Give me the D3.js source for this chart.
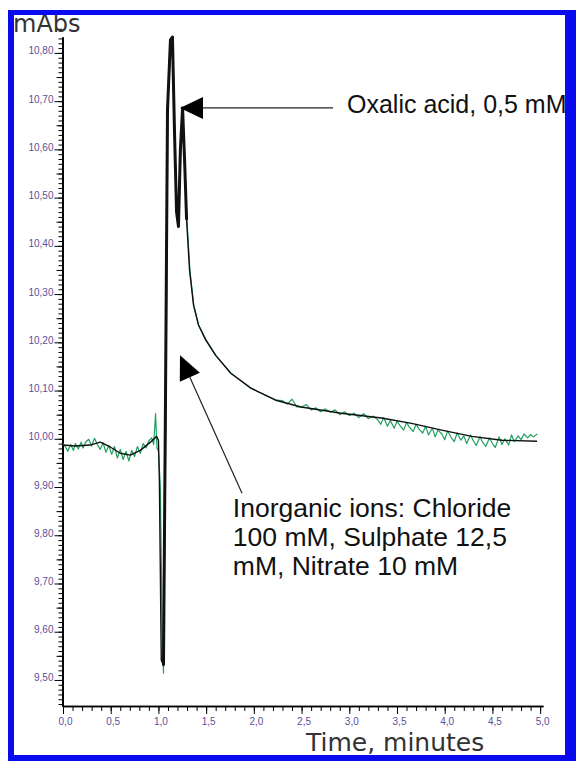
<!DOCTYPE html>
<html>
<head>
<meta charset="utf-8">
<title>Chromatogram</title>
<script src="https://cdn.jsdelivr.net/npm/d3@7"></script>
<style>
  body { margin: 0; background: #fff; }
  svg { display: block; }
  .axis path, .axis line { stroke: #000; }
  .axis path { stroke-width: 1.6px; }
  .axis text { fill: #5b4f9e; font-family: "Liberation Sans", Arial, sans-serif; font-size: 10px; }
  .trace { fill: none; stroke-linejoin: round; }
  .note { font-family: "Liberation Sans", Arial, sans-serif; font-size: 26.5px; fill: #111; }
  .title { font-family: "DejaVu Sans", sans-serif; fill: #333; }
</style>
</head>
<body>
<svg id="plot" width="576" height="761"></svg>
<script>
// tick labels (comma decimals as in the original)
const yMajor = [9.5, 9.6, 9.7, 9.8, 9.9, 10.0, 10.1, 10.2, 10.3, 10.4, 10.5, 10.6, 10.7, 10.8];
const yLabels = ["9,50", "9,60", "9,70", "9,80", "9,90", "10,00", "10,10", "10,20", "10,30", "10,40", "10,50", "10,60", "10,70", "10,80"];
const xMajor = [0, 0.5, 1, 1.5, 2, 2.5, 3, 3.5, 4, 4.5, 5];
const xLabels = ["0,0", "0,5", "1,0", "1,5", "2,0", "2,5", "3,0", "3,5", "4,0", "4,5", "5,0"];

// smoothed trace (black): [minutes, mAbs]
const smoothSignal = [
  [0, 9.987], [0.126, 9.985], [0.284, 9.987], [0.39, 9.993], [0.495, 9.983], [0.6, 9.970], [0.705, 9.966],
  [0.81, 9.976], [0.916, 9.993], [0.98, 10.005], [1.0, 9.997], [1.01, 9.914], [1.03, 9.541], [1.053, 9.530],
  [1.074, 10.080], [1.095, 10.682], [1.126, 10.827], [1.147, 10.833], [1.168, 10.640], [1.19, 10.470],
  [1.21, 10.440], [1.23, 10.599], [1.253, 10.686], [1.274, 10.578], [1.295, 10.454], [1.326, 10.350],
  [1.368, 10.277], [1.42, 10.236], [1.495, 10.205], [1.6, 10.173], [1.758, 10.136], [1.968, 10.105],
  [2.23, 10.080], [2.495, 10.066], [2.916, 10.053], [3.337, 10.043], [3.653, 10.032], [3.968, 10.018],
  [4.284, 10.005], [4.6, 9.997], [4.968, 9.995]
];

// raw detector signal (green): [minutes, mAbs]
const rawSignal = [
  [0, 9.990], [0.03, 9.982], [0.05, 9.974], [0.08, 9.988], [0.11, 9.976], [0.13, 9.990], [0.16, 9.979],
  [0.19, 9.993], [0.21, 9.981], [0.24, 9.994], [0.27, 9.999], [0.30, 9.985], [0.33, 10.001], [0.36, 9.988],
  [0.39, 9.978], [0.42, 9.992], [0.45, 9.972], [0.48, 9.986], [0.51, 9.968], [0.54, 9.984], [0.57, 9.960],
  [0.60, 9.978], [0.63, 9.957], [0.66, 9.974], [0.69, 9.954], [0.72, 9.976], [0.75, 9.963], [0.78, 9.984],
  [0.81, 9.970], [0.84, 9.990], [0.87, 9.981], [0.90, 9.996], [0.93, 10.002], [0.95, 9.988], [0.97, 10.052],
  [0.985, 9.980], [1.0, 9.975], [1.02, 9.900], [1.04, 9.600], [1.053, 9.514], [1.065, 9.750], [1.08, 10.100],
  [1.10, 10.700], [1.13, 10.810], [1.15, 10.830], [1.17, 10.640], [1.19, 10.470], [1.21, 10.440],
  [1.235, 10.600], [1.255, 10.680], [1.275, 10.580], [1.30, 10.450], [1.33, 10.350], [1.37, 10.277],
  [1.42, 10.236], [1.50, 10.205], [1.60, 10.173], [1.76, 10.136], [1.97, 10.105], [2.23, 10.080],
  [2.30, 10.079], [2.35, 10.072], [2.40, 10.082], [2.45, 10.066], [2.50, 10.066], [2.55, 10.071],
  [2.60, 10.060], [2.65, 10.064], [2.70, 10.056], [2.75, 10.062], [2.80, 10.055], [2.85, 10.060],
  [2.90, 10.050], [2.95, 10.056], [3.00, 10.048], [3.05, 10.053], [3.10, 10.044], [3.15, 10.052],
  [3.20, 10.042], [3.25, 10.047], [3.30, 10.039], [3.33, 10.030], [3.36, 10.044], [3.40, 10.026],
  [3.43, 10.038], [3.47, 10.022], [3.50, 10.036], [3.53, 10.028], [3.57, 10.018], [3.60, 10.034],
  [3.63, 10.024], [3.67, 10.015], [3.70, 10.030], [3.73, 10.020], [3.77, 10.012], [3.80, 10.026],
  [3.83, 10.008], [3.87, 10.022], [3.90, 10.004], [3.93, 10.018], [3.97, 10.010], [4.00, 9.998],
  [4.03, 10.016], [4.07, 10.002], [4.10, 9.994], [4.13, 10.012], [4.17, 9.997], [4.20, 10.006],
  [4.23, 9.990], [4.27, 10.008], [4.30, 9.996], [4.33, 9.986], [4.37, 10.004], [4.40, 9.992],
  [4.43, 9.984], [4.47, 10.002], [4.50, 9.990], [4.53, 9.982], [4.57, 10.004], [4.60, 9.988],
  [4.63, 10.000], [4.67, 9.987], [4.70, 10.008], [4.73, 9.994], [4.77, 10.006], [4.80, 9.998],
  [4.83, 10.010], [4.87, 10.002], [4.90, 10.009], [4.93, 10.004], [4.97, 10.010]
];

let svg = d3.select("svg");

let x = d3.scaleLinear().domain([0, 5.03]).range([63, 543]);
let y = d3.scaleLinear().domain([9.446, 10.833]).range([706, 37]);

// y axis: minor, medium, major ticks
svg.append("g").attr("class", "axis").attr("transform", "translate(62.5,0)")
    .call(d3.axisLeft(y).tickValues(d3.range(945, 1084).map(d => d / 100)).tickSize(4).tickSizeOuter(0).tickFormat(""));
svg.append("g").attr("class", "axis").attr("transform", "translate(62.5,0)")
    .call(d3.axisLeft(y).tickValues(d3.range(95, 108.5, 1).map(d => d / 10 + 0.05)).tickSize(6).tickSizeOuter(0).tickFormat(""));
svg.append("g").attr("class", "axis").attr("transform", "translate(62.5,0)")
    .call(d3.axisLeft(y).tickValues(yMajor).tickSize(8).tickSizeOuter(0).tickPadding(1)
        .tickFormat((d, i) => yLabels[i]))
    .selectAll("text").attr("dy", "0.1em");

// x axis
svg.append("g").attr("class", "axis").attr("transform", "translate(0,706)")
    .call(d3.axisBottom(x).tickValues(d3.range(0, 51).map(d => d / 10)).tickSize(5).tickSizeOuter(0).tickFormat(""));
svg.append("g").attr("class", "axis").attr("transform", "translate(0,706)")
    .call(d3.axisBottom(x).tickValues(xMajor).tickSize(8).tickSizeOuter(0).tickPadding(4)
        .tickFormat((d, i) => xLabels[i]))
    .selectAll("text").attr("dx", 2);

let line = d3.line()
    .x(d => x(d[0]))
    .y(d => y(d[1]));

svg.append("path").datum(rawSignal)
    .attr("class", "trace").attr("stroke", "#1f9f5f").attr("stroke-width", 1.2).attr("d", line);
svg.append("path").datum(smoothSignal)
    .attr("class", "trace").attr("stroke", "#111").attr("stroke-width", 1.4).attr("d", line);
// peak section is drawn heavier in the original
svg.append("path").datum(smoothSignal.filter(d => d[0] >= 1.04 && d[0] <= 1.3))
    .attr("class", "trace").attr("stroke", "#111").attr("stroke-width", 3).attr("d", line);

// annotations
function arrow(from, to, head, half) {
    let x0 = x(from[0]), y0 = y(from[1]), x1 = x(to[0]), y1 = y(to[1]);
    let len = Math.hypot(x1 - x0, y1 - y0), ux = (x1 - x0) / len, uy = (y1 - y0) / len;
    let bx = x1 - ux * head, by = y1 - uy * head;
    svg.append("line").attr("x1", x0).attr("y1", y0).attr("x2", bx).attr("y2", by)
        .attr("stroke", "#222").attr("stroke-width", 1.2);
    svg.append("polygon")
        .attr("points", [[x1, y1], [bx - uy * half, by + ux * half], [bx + uy * half, by - ux * half]].join(" "))
        .attr("fill", "#000");
}
arrow([2.83, 10.686], [1.226, 10.686], 23, 11);
arrow([1.876, 9.887], [1.226, 10.173], 24, 11);

svg.append("text").attr("class", "note").attr("x", 347).attr("y", 113)
    .style("font-size", "25px").text("Oxalic acid, 0,5 mM");
let inorg = svg.append("text").attr("class", "note").attr("x", x(1.78)).attr("y", 517);
["Inorganic ions: Chloride", "100 mM, Sulphate 12,5", "mM, Nitrate 10 mM"].forEach((s, i) => {
    inorg.append("tspan").attr("x", x(1.78)).attr("dy", i ? 29 : 0).text(s);
});

svg.append("text").attr("class", "title").attr("x", 13).attr("y", 32).attr("font-size", 24).text("mAbs");
svg.append("text").attr("class", "title").attr("x", 306).attr("y", 751).attr("font-size", 25).text("Time, minutes");

// blue frame
const blue = "#0a0aee";
svg.append("rect").attr("x", 8).attr("y", 10).attr("width", 6).attr("height", 751).attr("fill", blue);
svg.append("rect").attr("x", 8).attr("y", 10).attr("width", 568).attr("height", 5).attr("fill", blue);
svg.append("rect").attr("x", 565).attr("y", 10).attr("width", 11).attr("height", 751).attr("fill", blue);
svg.append("rect").attr("x", 8).attr("y", 755).attr("width", 568).attr("height", 6).attr("fill", blue);
</script>
</body>
</html>
